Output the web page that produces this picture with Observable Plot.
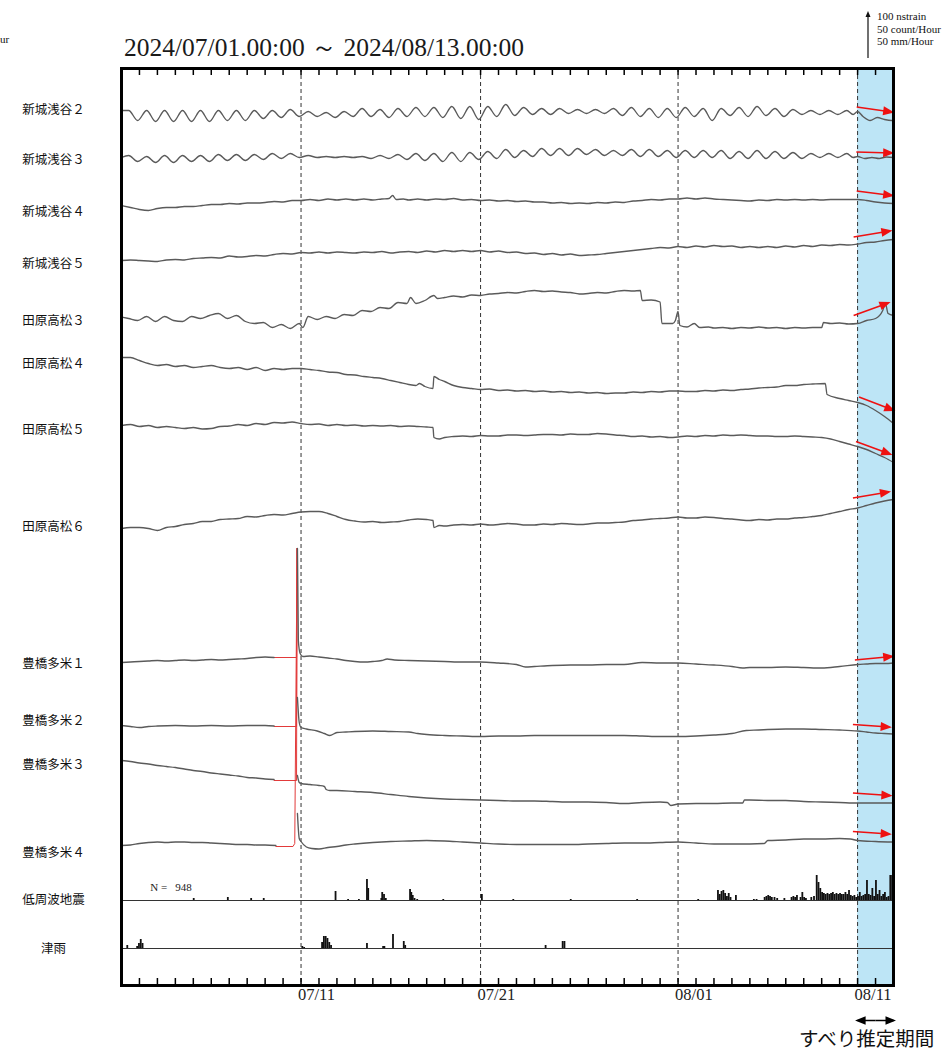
<!DOCTYPE html>
<html lang="ja">
<head>
<meta charset="utf-8">
<title>ひずみ計観測データ</title>
<script src="https://cdn.jsdelivr.net/npm/d3@7"></script>
<script src="https://cdn.jsdelivr.net/npm/@observablehq/plot@0.6"></script>
<style>
html,body{margin:0;padding:0;background:#fff;overflow:hidden;}
#wrap{position:relative;width:950px;height:1052px;overflow:hidden;}
#chart{position:absolute;left:0;top:0;}
#title{position:absolute;left:124px;top:34px;font:25.5px/27px "Liberation Serif",serif;color:#1a1a1a;white-space:nowrap;}
#legend{position:absolute;left:877px;top:10px;font:11px/12.5px "Liberation Serif",serif;color:#111;white-space:nowrap;}
#legendArrow{position:absolute;left:863px;top:10px;}
#cut{position:absolute;left:0px;top:33px;font:11px/12px "Liberation Serif",serif;color:#111;white-space:nowrap;}
#slip{position:absolute;left:799px;top:1028px;font:19.5px/19px "Noto Sans CJK JP",sans-serif;color:#111;white-space:nowrap;}
</style>
</head>
<body>
<div id="wrap">
<div id="chart"></div>
<div id="title"></div>
<svg id="legendArrow" width="10" height="52"><line x1="5" y1="6" x2="5" y2="48" stroke="#111" stroke-width="1.2"/><path d="M2.5,7L5,1L7.5,7Z" fill="#111"/></svg>
<div id="legend"></div>
<div id="cut"></div>
<div id="slip"></div>
</div>
<script>
// ---------- text / meta ----------
const periodStart = "2024/07/01.00:00";
const periodEnd = "2024/08/13.00:00";
const legendLines = ["100 nstrain", "50 count/Hour", "50 mm/Hour"];
const leftFragment = "ur";
const slipLabel = "すべり推定期間";
const labelNames = ["新城浅谷２","新城浅谷３","新城浅谷４","新城浅谷５","田原高松３","田原高松４","田原高松５","田原高松６","豊橋多米１","豊橋多米２","豊橋多米３","豊橋多米４","低周波地震","津雨"];
// stacking positions (nstrain units from bottom of frame)
const labelPos = [1752,1652,1548,1444,1330,1244,1112,918,644,530,442,266,172,74];
const channelBase = [1740,1654,1560,1454,1330,1230,1110,930,650,518,420,280];
const eqBase = 170, rainBase = 74;
const eqTotal = 948;
// days since 2024-07-01
const majorDays = [10, 20, 31, 41];
const majorLabels = ["07/11", "07/21", "08/01", "08/11"];
const slipStart = 41, slipEnd = 43;

// ---------- strain series [day, nstrain] ----------
const sa2 = [[0,10],[0.4,10],[0.9,-10],[1.4,10],[1.9,-12],[2.4,10],[2.9,-12],[3.4,10],[3.9,-12],[4.4,10],[4.9,-12],[5.4,10],[5.9,-10],[6.4,10],[6.9,-10],[7.4,10],[7.9,-6],[8.4,10],[8.9,-4],[9.4,12],[9.9,-2],[10.4,8],[10.9,-2],[11.4,6],[11.9,-4],[12.4,8],[12.9,-2],[13.4,14],[13.9,-2],[14.4,12],[14.9,-4],[15.4,14],[15.9,-2],[16.4,16],[16.9,-2],[17.4,16],[17.9,-4],[18.4,18],[18.9,-6],[19.4,18],[19.9,-8],[20.4,18],[20.9,-2],[21.4,22],[21.9,0],[22.4,16],[22.9,2],[23.4,14],[23.9,2],[24.4,14],[24.9,4],[25.4,12],[25.9,4],[26.4,12],[26.9,4],[27.4,14],[27.9,0],[28.4,16],[28.9,-2],[29.4,14],[29.9,-4],[30.4,14],[30.9,-4],[31.4,16],[31.9,-2],[32.4,14],[32.9,-10],[33.4,14],[33.9,0],[34.4,16],[34.9,-2],[35.4,18],[35.9,0],[36.4,14],[36.9,-2],[37.4,12],[37.9,2],[38.4,10],[38.9,2],[39.4,10],[39.9,2],[40.4,10],[40.75,2],[41.0,8],[41.3,-2],[41.7,-10],[42.1,-4],[42.5,-8],[42.9,-10],[43,-10]];
const sa3 = [[0,2],[0.4,6],[0.9,-6],[1.4,4],[1.9,-8],[2.4,6],[2.9,-8],[3.4,6],[3.9,-6],[4.4,6],[4.9,-6],[5.4,8],[5.9,-4],[6.4,8],[6.9,-4],[7.4,8],[7.9,-2],[8.4,10],[8.9,0],[9.4,10],[9.9,2],[10.4,6],[10.9,2],[11.4,4],[11.9,2],[12.4,4],[12.9,2],[13.4,4],[13.9,0],[14.4,6],[14.9,0],[15.4,8],[15.9,-2],[16.4,10],[16.9,-4],[17.4,10],[17.9,-6],[18.4,12],[18.9,-6],[19.4,12],[19.9,-2],[20.4,14],[20.9,0],[21.4,18],[21.9,2],[22.4,16],[22.9,4],[23.4,20],[23.9,6],[24.4,20],[24.9,6],[25.4,20],[25.9,8],[26.4,18],[26.9,6],[27.4,16],[27.9,6],[28.4,18],[28.9,4],[29.4,18],[29.9,4],[30.4,16],[30.9,2],[31.4,16],[31.9,2],[32.4,16],[32.9,2],[33.4,16],[33.9,0],[34.4,14],[34.9,0],[35.4,16],[35.9,0],[36.4,14],[36.9,0],[37.4,12],[37.9,0],[38.4,10],[38.9,2],[39.4,10],[39.9,2],[40.4,10],[40.75,2],[41.0,4],[41.4,0],[41.8,2],[42.2,0],[42.6,3],[43,2]];
const sa4 = [[0,0],[0.5,-4],[1,-8],[1.5,-10],[2,-6],[2.5,-4],[3,-4],[3.5,-2],[4,-2],[4.5,0],[5,2],[5.5,2],[6,4],[6.5,3],[7,5],[7.5,5],[8,6],[8.5,8],[9,7],[9.5,10],[10,10],[10.5,12],[11,10],[11.5,13],[12,11],[12.5,13],[13,11],[13.5,13],[14,11],[14.5,13],[14.9,14],[15.1,20],[15.3,12],[15.7,13],[16,11],[16.5,13],[17,11],[17.5,13],[18,12],[18.5,14],[19,11],[19.5,12],[20,10],[20.5,11],[21,9],[21.5,10],[22,8],[22.5,9],[23,7],[23.5,7],[24,5],[24.5,6],[25,4],[25.5,5],[26,4],[26.5,6],[27,5],[27.5,7],[28,6],[28.5,9],[29,10],[29.5,12],[30,11],[30.5,13],[31,13],[31.5,15],[32,13],[32.5,15],[33,13],[33.5,12],[34,11],[34.5,10],[35,9],[35.5,11],[36,10],[36.5,12],[37,11],[37.5,12],[38,11],[38.5,12],[39,11],[39.5,12],[40,12],[40.5,12],[41,12],[41.5,10],[42,7],[42.5,5],[43,4]];
const sa5 = [[0,-4],[0.5,-3],[1,-4],[1.5,-5],[2,-6],[2.5,-3],[3,-2],[3.5,-3],[4,0],[4.5,1],[5,2],[5.5,1],[6,5],[6.5,3],[7,4],[7.5,6],[8,5],[8.5,8],[9,10],[9.5,9],[10,12],[10.5,11],[11,13],[11.5,11],[12,13],[12.5,12],[13,11],[13.5,13],[14,12],[14.5,14],[15,11],[15.5,13],[16,14],[16.5,12],[17,15],[17.5,13],[18,16],[18.5,14],[19,16],[19.5,14],[20,16],[20.5,13],[21,15],[21.5,12],[22,13],[22.5,10],[23,11],[23.5,8],[24,10],[24.5,7],[25,9],[25.5,6],[26,7],[26.5,8],[27,10],[27.5,12],[28,14],[28.5,16],[29,18],[29.5,20],[30,22],[30.5,21],[31,24],[31.5,22],[32,25],[32.5,23],[33,26],[33.5,24],[34,25],[34.5,22],[35,24],[35.5,22],[36,24],[36.5,22],[37,25],[37.5,23],[38,26],[38.5,24],[39,27],[39.5,26],[40,28],[40.5,27],[41,29],[41.5,32],[42,33],[42.5,36],[43,38]];
const th3 = [[0,7],[0.4,4],[0.9,0],[1.4,8],[1.9,-2],[2.4,8],[2.9,0],[3.4,-2],[3.9,8],[4.4,4],[4.9,10],[5.4,14],[5.9,4],[6.4,10],[6.9,-2],[7.4,-6],[7.9,-4],[8.4,-14],[8.9,-8],[9.4,-16],[9.9,-6],[10.1,-14],[10.4,8],[10.9,2],[11.4,8],[11.9,4],[12.4,12],[12.9,10],[13.4,20],[13.9,18],[14.4,26],[14.9,24],[15.4,36],[15.9,34],[16.1,46],[16.4,34],[16.9,40],[17.4,50],[17.6,44],[18,46],[18.5,49],[19,47],[19.5,51],[20,50],[20.5,53],[21,54],[21.5,56],[22,55],[22.5,58],[23,60],[23.5,58],[24,59],[24.5,57],[25,56],[25.5,53],[26,54],[26.5,56],[27,55],[27.5,58],[28,60],[28.5,59],[28.9,60],[29.0,40],[29.5,41],[30.0,37],[30.1,-6],[30.7,-6],[30.85,0],[31.0,18],[31.1,-10],[31.5,-13],[31.9,-6],[32.2,-14],[32.7,-13],[33,-15],[33.5,-14],[34,-16],[34.5,-14],[35,-15],[35.5,-13],[36,-15],[36.5,-14],[37,-16],[37.5,-14],[38,-15],[38.5,-14],[39.0,-14],[39.1,-4],[39.5,-6],[40,-5],[40.5,-7],[41,-6],[41.5,0],[42,4],[42.4,20],[42.55,34],[42.7,14],[43,10]];
const th4 = [[0,26],[0.5,26],[1,20],[1.5,14],[2,10],[2.5,12],[3,8],[3.5,10],[4,6],[4.5,8],[5,10],[5.5,6],[6,4],[6.5,6],[7,2],[7.5,6],[8,0],[8.5,4],[9,2],[9.5,4],[10,4],[10.5,2],[11,0],[11.5,-3],[12,-4],[12.5,-8],[13,-9],[13.5,-12],[14,-14],[14.5,-16],[15,-20],[15.5,-24],[16,-28],[16.4,-30],[16.6,-26],[16.9,-32],[17.35,-36],[17.4,-12],[17.7,-18],[18,-22],[18.5,-30],[19,-34],[19.5,-36],[20,-38],[20.5,-37],[21,-40],[21.5,-39],[22,-41],[22.5,-40],[23,-42],[23.5,-41],[24,-43],[24.5,-42],[25,-44],[25.5,-43],[26,-45],[26.5,-44],[27,-46],[27.5,-45],[28,-45],[28.5,-43],[29,-44],[29.5,-42],[30,-43],[30.5,-41],[31,-41],[31.5,-42],[32,-42],[32.5,-40],[33,-41],[33.5,-39],[34,-40],[34.5,-38],[35,-37],[35.5,-35],[36,-34],[36.5,-33],[37,-30],[37.5,-30],[38,-28],[38.5,-27],[39.2,-26],[39.3,-48],[40,-56],[40.5,-60],[41,-64],[41.5,-70],[42,-80],[42.5,-92],[43,-106]];
const th5 = [[0,10],[0.5,12],[1,8],[1.5,10],[2,6],[2.5,8],[3,6],[3.5,4],[4,6],[4.5,3],[5,4],[5.5,8],[6,9],[6.5,12],[7,10],[7.5,14],[8,12],[8.5,16],[9,15],[9.5,17],[10,14],[10.5,12],[11,13],[11.5,10],[12,12],[12.5,10],[13,11],[13.5,9],[14,10],[14.5,9],[15,10],[15.5,8],[16,9],[16.5,8],[17,7],[17.35,6],[17.4,-14],[17.7,-17],[18,-14],[18.5,-12],[19,-11],[19.5,-12],[20,-10],[20.5,-11],[21,-11],[21.5,-9],[22,-9],[22.5,-10],[23,-9],[23.5,-8],[24,-8],[24.5,-9],[25,-7],[25.5,-8],[26,-8],[26.5,-6],[27,-7],[27.5,-9],[28,-10],[28.5,-12],[29,-11],[29.5,-13],[30,-12],[30.5,-14],[31,-13],[31.5,-11],[32,-12],[32.5,-10],[33,-11],[33.5,-9],[34,-10],[34.5,-9],[35,-10],[35.5,-11],[36,-11],[36.5,-12],[37,-12],[37.5,-11],[38,-12],[38.5,-13],[39,-14],[39.5,-17],[40,-22],[40.5,-27],[41,-32],[41.5,-38],[42,-46],[42.5,-54],[43,-64]];
const th6 = [[0,-16],[0.5,-14],[1,-14],[1.5,-16],[2,-20],[2.5,-14],[3,-12],[3.5,-8],[4,-6],[4.5,-2],[5,-2],[5.5,2],[6,3],[6.5,4],[7,8],[7.5,7],[8,10],[8.5,12],[9,11],[9.5,14],[10,17],[10.5,18],[11,18],[11.5,14],[12,8],[12.5,2],[13,-1],[13.5,-3],[14,-2],[14.5,-4],[15,-3],[15.5,-2],[16,1],[16.5,3],[17,2],[17.35,0],[17.4,-14],[17.7,-10],[18,-11],[18.5,-9],[19,-8],[19.5,-9],[20,-7],[20.5,-9],[21,-8],[21.5,-6],[22,-7],[22.5,-9],[23,-9],[23.5,-7],[24,-8],[24.5,-6],[25,-7],[25.5,-8],[26,-7],[26.5,-5],[27,-5],[27.5,-4],[28,-3],[28.5,0],[29,1],[29.5,3],[30,4],[30.5,5],[31,7],[31.5,5],[32,5],[32.5,7],[33,6],[33.5,4],[34,3],[34.5,1],[35,0],[35.5,2],[36,1],[36.5,3],[37,3],[37.5,5],[38,6],[38.5,8],[39,10],[39.5,14],[40,18],[40.5,22],[41,25],[41.5,30],[42,35],[42.5,39],[43,42]];
// 豊橋多米: black before / red (pre-event) / black after
const tt1a = [[0,-4],[0.5,-3],[1,-2],[1.5,-1],[2,0],[2.5,-1],[3,0],[3.5,1],[4,0],[4.5,1],[5,2],[5.5,1],[6,2],[6.5,3],[7,4],[7.5,6],[8,7],[8.5,6]];
const tt1r = [[8.5,6],[9.75,6],[9.78,224]];
const tt1b = [[9.8,224],[9.85,40],[9.95,14],[10.1,8],[10.5,9],[11,7],[11.5,5],[12,3],[12.5,0],[13,-2],[13.5,-3],[14,-2],[14.5,0],[14.8,3],[15.2,1],[16,0],[17,-1],[18,-2],[19,-3],[20,-3],[21,-5],[22,-8],[22.5,-13],[23,-12],[24,-10],[25,-9],[26,-9],[27,-8],[28,-8],[29,-4],[30,-5],[31,-5],[32,-7],[33,-9],[34,-12],[34.6,-15],[35,-14],[36,-14],[37,-13],[38,-14],[39,-15],[40,-12],[41,-8],[41.5,-7],[42,-6],[42.5,-6],[43,-5]];
const tt2a = [[0,2],[0.5,0],[1,-2],[1.5,0],[2,1],[3,2],[4,1],[5,2],[6,1],[7,2],[8,2],[8.5,1]];
const tt2r = [[8.5,0],[9.75,0],[9.78,356]];
const tt2b = [[9.8,58],[9.9,8],[10.0,-2],[10.3,-5],[10.9,-9],[11.3,-14],[11.6,-18],[12,-12],[12.5,-11],[13,-10],[14,-9],[15,-10],[16,-11],[16.5,-14],[17,-16],[18,-18],[19,-19],[20,-20],[21,-19],[22,-19],[23,-18],[24,-18],[25,-18],[26,-18],[27,-18],[28,-18],[29,-19],[30,-20],[31,-20],[32,-19],[33,-17],[34,-14],[34.8,-8],[35.5,-7],[36,-6],[37,-5],[38,-5],[39,-6],[40,-7],[41,-9],[41.5,-11],[42,-13],[42.5,-14],[43,-15]];
const tt3a = [[0,30],[0.5,28],[1,25],[1.5,23],[2,20],[2.5,18],[3,16],[3.5,13],[4,10],[4.5,8],[5,5],[5.5,3],[6,1],[6.5,-1],[7,-4],[7.5,-5],[8,-7],[8.5,-8]];
const tt3r = [[8.5,-10],[9.75,-10],[9.78,454]];
const tt3b = [[9.8,0],[9.9,-14],[10.0,-16],[10.5,-18],[11.0,-20],[11.3,-22],[11.4,-28],[11.6,-30],[12,-30],[13,-32],[14,-34],[15,-38],[16,-42],[17,-45],[18,-47],[19,-48],[20,-49],[21,-50],[22,-51],[23,-51],[24,-52],[25,-53],[26,-53],[27,-54],[28,-56],[29,-54],[30,-53],[30.4,-54],[30.6,-60],[31,-57],[32,-56],[33,-56],[34,-55],[34.6,-55],[34.7,-49],[35,-49],[36,-50],[37,-50],[38,-52],[39,-53],[40,-54],[41,-55],[42,-55],[43,-55]];
const tt4a = [[0,0],[0.5,1],[1,4],[1.5,6],[2,7],[2.5,6],[3,7],[3.5,7],[4,6],[4.5,6],[5,5],[5.5,4],[6,3],[6.5,2],[7,2],[7.5,1],[8,1],[8.6,0]];
const tt4r = [[8.6,-2],[9.55,-2],[9.65,4],[9.78,594]];
const tt4b = [[9.8,64],[9.9,14],[10.0,8],[10.3,-3],[10.6,-6],[11,-7],[11.5,-4],[12,-2],[12.5,1],[13,3],[14,6],[15,8],[16,9],[17,10],[18,9],[19,7],[20,5],[21,3],[22,2],[23,2],[24,2],[25,2],[26,3],[27,4],[28,5],[29,5],[30,6],[31,7],[32,5],[33,3],[34,3],[35,3],[35.8,4],[36,10],[37,11],[38,13],[39,13],[40,14],[40.6,13],[41,10],[42,8],[43,7]];

// red trend arrows (start day, start value, end day, end value) per strain channel
const arrowT1 = [40.95,40.93,40.95,40.78,40.78,41.08,40.91,40.74,40.85,40.74,40.74,40.74];
const arrowV1 = [17,13,29,43,10,-53,-22,45,1,4,-35,28];
const arrowT2 = [42.9,42.9,42.9,42.8,42.7,42.97,42.8,42.72,42.9,42.76,42.8,42.76];
const arrowV2 = [7,11,20,55,35,-79,-47,57,8,-1,-40,23];

// low frequency earthquakes [day, count/hour]
const eqCounts = [[4.0,2],[5.9,3],[7.2,2],[7.9,2],[11.9,9],[12.6,1],[13.2,1],[13.65,21],[13.72,12],[14.45,2],[14.5,8],[14.6,6],[14.7,2],[16.05,11],[16.12,8],[16.2,5],[16.3,2],[16.45,1],[17.9,1],[20.05,6],[21.8,1],[25.0,1],[28.7,1],[32.1,1],[33.2,10],[33.3,6],[33.4,9],[33.5,10],[33.6,7],[33.7,4],[33.8,7],[33.9,3],[34.2,5],[35.2,1],[35.35,1],[35.8,3],[35.9,4],[36.0,5],[36.1,4],[36.2,3],[36.35,3],[36.5,2],[36.9,2],[37.3,3],[37.4,4],[37.5,3],[37.6,5],[37.8,3],[37.9,8],[38.0,3],[38.1,2],[38.4,3],[38.55,4],[38.7,25],[38.8,18],[38.9,12],[39.0,8],[39.1,7],[39.2,6],[39.3,7],[39.4,6],[39.5,7],[39.6,8],[39.7,6],[39.8,7],[39.9,6],[40.0,7],[40.1,6],[40.2,6],[40.3,8],[40.4,6],[40.5,10],[40.6,5],[40.7,4],[40.8,5],[40.9,3],[41.0,4],[41.1,8],[41.2,4],[41.3,5],[41.4,6],[41.5,20],[41.6,6],[41.7,5],[41.8,12],[41.9,4],[42.0,20],[42.1,6],[42.2,10],[42.3,4],[42.4,6],[42.5,8],[42.6,3],[42.7,4],[42.8,25],[42.9,25]];
// rainfall at Tsu [day, mm/hour]
const rainMm = [[0.3,3],[0.85,2],[0.95,5],[1.05,9],[1.15,5],[10.05,2],[10.15,1],[11.15,6],[11.25,12],[11.35,12],[11.45,10],[11.55,6],[11.65,3],[13.65,5],[14.55,2],[14.62,2],[15.1,14],[15.7,7],[15.78,3],[23.6,3],[24.55,7],[24.65,7]];

// ---------- build ----------
const T0 = Date.UTC(2024, 6, 1);
const toDate = d => new Date(T0 + d * 864e5);
const unitsPerCount = 2; // 50 count/h (or 50 mm/h) == 100 nstrain

const graySegs = [[0,sa2],[1,sa3],[2,sa4],[3,sa5],[4,th3],[5,th4],[6,th5],[7,th6],[8,tt1a],[8,tt1b],[9,tt2a],[9,tt2b],[10,tt3a],[10,tt3b],[11,tt4a],[11,tt4b]];
const redSegs = [[8,tt1r],[9,tt2r],[10,tt3r],[11,tt4r]];
const toRows = segs => segs.flatMap(([ch, s], k) => s.map(([t, v]) => ({k, t: toDate(t), y: channelBase[ch] + v})));
const grayRows = toRows(graySegs);
const redRows = toRows(redSegs);
const arrows = channelBase.map((b, i) => ({a: toDate(arrowT1[i]), b: toDate(arrowT2[i]), y1: b + arrowV1[i], y2: b + arrowV2[i]}));
const binW = 0.1;
const eqRows = eqCounts.map(([d, c]) => ({a: toDate(d), b: toDate(d + binW), y1: eqBase, y2: eqBase + c * unitsPerCount}));
const rainRows = rainMm.map(([d, c]) => ({a: toDate(d), b: toDate(d + binW), y1: rainBase, y2: rainBase + c * unitsPerCount}));
const dayTicks = d3.range(1, 43).map(toDate);
const slipMid = (slipStart + slipEnd) / 2;
const slipArrows = [{a: toDate(slipMid), b: toDate(slipStart)}, {a: toDate(slipMid), b: toDate(slipEnd)}];
const slipArrowY = -70;

const chart = Plot.plot({
  width: 950, height: 1052,
  marginTop: 68, marginLeft: 121, marginRight: 57, marginBottom: 67,
  x: {type: "utc", domain: [toDate(0), toDate(43)], axis: null},
  y: {domain: [0, 1834], axis: null},
  style: {background: "transparent", overflow: "visible"},
  marks: [
    Plot.rect([{a: toDate(slipStart), b: toDate(slipEnd)}], {x1: "a", x2: "b", fill: "#bde5f6"}),
    Plot.ruleX(majorDays.map(toDate), {stroke: "#333", strokeWidth: 1, strokeDasharray: "4,3"}),
    Plot.ruleY([eqBase, rainBase], {stroke: "#333", strokeWidth: 1}),
    Plot.rect(eqRows, {x1: "a", x2: "b", y1: "y1", y2: "y2", fill: "#111"}),
    Plot.rect(rainRows, {x1: "a", x2: "b", y1: "y1", y2: "y2", fill: "#111"}),
    Plot.line(redRows, {x: "t", y: "y", z: "k", stroke: "#e23a3a", strokeWidth: 1}),
    Plot.line(grayRows, {x: "t", y: "y", z: "k", stroke: "#5a5a5a", strokeWidth: 1.35, strokeLinejoin: "round", curve: "monotone-x"}),
    Plot.link(arrows, {x1: "a", x2: "b", y1: "y1", y2: "y2", stroke: "#ee1111", strokeWidth: 1.6, markerEnd: "arrow"}),
    Plot.link(slipArrows, {x1: "a", x2: "b", y1: () => slipArrowY, y2: () => slipArrowY, stroke: "#000", strokeWidth: 1.5, markerEnd: "arrow"}),
    Plot.ruleX(dayTicks, {stroke: "#000", strokeWidth: 1.5, insetBottom: 910}),
    Plot.ruleX(dayTicks, {stroke: "#000", strokeWidth: 1.5, insetTop: 910}),
    Plot.frame({stroke: "#000", strokeWidth: 3}),
    Plot.text(labelNames, {frameAnchor: "left", y: (d, i) => labelPos[i], dx: -68, text: d => d, textAnchor: "middle", fontFamily: "Noto Sans CJK JP", fontSize: 12.5, fill: "#111"}),
    Plot.text(majorDays, {x: d => toDate(d), text: (d, i) => majorLabels[i], frameAnchor: "bottom", dy: 14, dx: -3, textAnchor: "start", fontFamily: "Liberation Serif", fontSize: 16.5, fill: "#222"}),
    Plot.text([eqTotal], {x: () => toDate(1.6), y: () => eqBase + 26, text: d => "N =\u00a0\u00a0\u00a0" + d, textAnchor: "start", fontFamily: "Liberation Serif", fontSize: 11, fill: "#222"})
  ]
});

// filled triangle arrowheads
chart.querySelectorAll("marker").forEach(m => {
  const col = m.getAttribute("stroke") || "#000";
  m.setAttribute("overflow", "visible");
  m.setAttribute("fill", col);
  m.setAttribute("stroke", "none");
  const p = m.querySelector("path");
  if (p) p.setAttribute("d", "M-8,-4.2L2.5,0L-8,4.2Z");
});

document.getElementById("chart").appendChild(chart);
document.getElementById("title").textContent = periodStart + " ～ " + periodEnd;
document.getElementById("legend").innerHTML = legendLines.join("<br>");
document.getElementById("cut").textContent = leftFragment;
document.getElementById("slip").textContent = slipLabel;
</script>
</body>
</html>
